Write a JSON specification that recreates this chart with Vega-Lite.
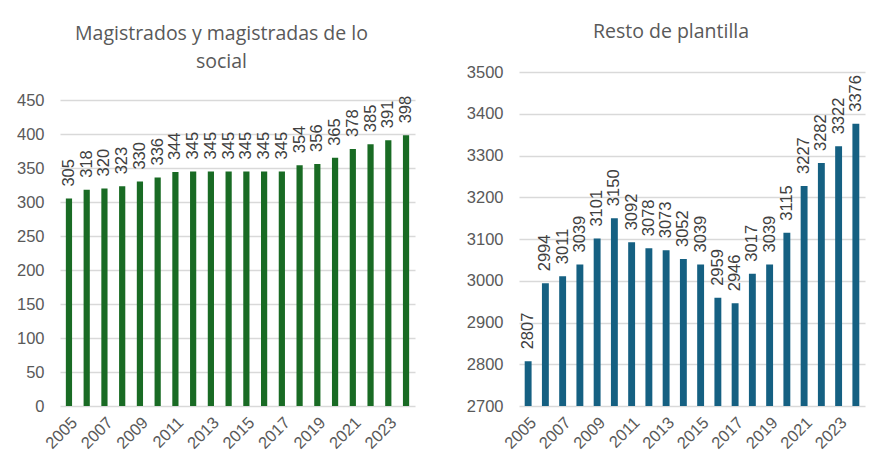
{
  "$schema": "https://vega.github.io/schema/vega-lite/v6.json",
  "background": "white",
  "padding": {"left": 16, "top": 21, "right": 10, "bottom": 5},
  "spacing": 51,
  "datasets": {
    "plantilla": [
      {"year": 2005, "magistrados": 305, "resto": 2807},
      {"year": 2006, "magistrados": 318, "resto": 2994},
      {"year": 2007, "magistrados": 320, "resto": 3011},
      {"year": 2008, "magistrados": 323, "resto": 3039},
      {"year": 2009, "magistrados": 330, "resto": 3101},
      {"year": 2010, "magistrados": 336, "resto": 3150},
      {"year": 2011, "magistrados": 344, "resto": 3092},
      {"year": 2012, "magistrados": 345, "resto": 3078},
      {"year": 2013, "magistrados": 345, "resto": 3073},
      {"year": 2014, "magistrados": 345, "resto": 3052},
      {"year": 2015, "magistrados": 345, "resto": 3039},
      {"year": 2016, "magistrados": 345, "resto": 2959},
      {"year": 2017, "magistrados": 345, "resto": 2946},
      {"year": 2018, "magistrados": 354, "resto": 3017},
      {"year": 2019, "magistrados": 356, "resto": 3039},
      {"year": 2020, "magistrados": 365, "resto": 3115},
      {"year": 2021, "magistrados": 378, "resto": 3227},
      {"year": 2022, "magistrados": 385, "resto": 3282},
      {"year": 2023, "magistrados": 391, "resto": 3322},
      {"year": 2024, "magistrados": 398, "resto": 3376}
    ]
  },
  "config": {
    "view": {"stroke": null},
    "font": "Liberation Sans",
    "title": {
      "font": "Open Sans",
      "fontSize": 19.5,
      "fontWeight": "normal",
      "color": "#595959",
      "lineHeight": 28
    },
    "axis": {
      "labelFont": "Liberation Sans",
      "labelFontSize": 16.5,
      "labelColor": "#595959",
      "title": null,
      "ticks": false,
      "domain": false
    },
    "axisY": {
      "gridColor": "#D9D9D9",
      "gridWidth": 1.4,
      "labelPadding": 16,
      "format": "d"
    },
    "axisX": {
      "grid": false,
      "labelAngle": -45,
      "labelPadding": 8
    },
    "text": {
      "font": "Liberation Sans",
      "fontSize": 16.5,
      "color": "#404040"
    }
  },
  "hconcat": [
    {
      "title": {"text": ["Magistrados y magistradas de lo", "social"], "dx": -16, "offset": 0},
      "width": 355,
      "height": 334,
      "data": {"name": "plantilla"},
      "encoding": {
        "x": {
          "field": "year",
          "type": "ordinal",
          "scale": {"paddingInner": 0.65, "paddingOuter": 0.33},
          "axis": {"values": [2005, 2007, 2009, 2011, 2013, 2015, 2017, 2019, 2021, 2023]}
        },
        "y": {
          "field": "magistrados",
          "type": "quantitative",
          "scale": {"domain": [0, 491.2], "nice": false},
          "axis": {"values": [0, 50, 100, 150, 200, 250, 300, 350, 400, 450]}
        }
      },
      "layer": [
        {"mark": {"type": "bar", "color": "#196B24"}},
        {
          "mark": {"type": "text", "angle": 270, "align": "left", "baseline": "middle", "dx": 12},
          "encoding": {"text": {"field": "magistrados"}}
        }
      ]
    },
    {
      "title": {"text": "Resto de plantilla", "dx": -21, "offset": 22},
      "width": 346,
      "height": 334,
      "data": {"name": "plantilla"},
      "encoding": {
        "x": {
          "field": "year",
          "type": "ordinal",
          "scale": {"paddingInner": 0.6, "paddingOuter": 0.33},
          "axis": {"values": [2005, 2007, 2009, 2011, 2013, 2015, 2017, 2019, 2021, 2023]}
        },
        "y": {
          "field": "resto",
          "type": "quantitative",
          "scale": {"domain": [2700, 3500], "nice": false, "zero": false},
          "axis": {"values": [2700, 2800, 2900, 3000, 3100, 3200, 3300, 3400, 3500]}
        }
      },
      "layer": [
        {"mark": {"type": "bar", "color": "#156082", "clip": true}},
        {
          "mark": {"type": "text", "angle": 270, "align": "left", "baseline": "middle", "dx": 12},
          "encoding": {"text": {"field": "resto"}}
        }
      ]
    }
  ]
}
